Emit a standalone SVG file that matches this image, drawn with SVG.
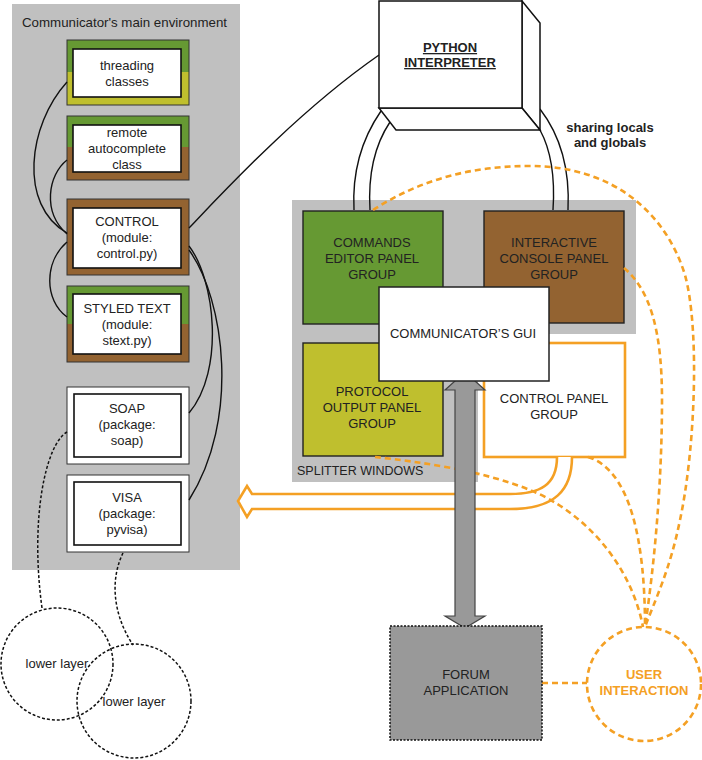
<svg xmlns="http://www.w3.org/2000/svg" width="702" height="760" viewBox="0 0 702 760">
<style>
text{font-family:"Liberation Sans",Arial,sans-serif;font-size:13px;fill:#222;text-anchor:middle}
.title{text-anchor:start}
.bold{font-weight:bold}
.outer{fill:none;stroke:#333;stroke-width:1}
.inner{fill:#fff;stroke:#111;stroke-width:1.6}
.blk{fill:none;stroke:#111;stroke-width:1.4}
.bdash{fill:none;stroke:#111;stroke-width:1.5;stroke-dasharray:3,2}
.odash{fill:none;stroke:#F4A024;stroke-width:2.6;stroke-dasharray:6,4}
.green{fill:#669933}
.yel{fill:#BFBF2E}
.brown{fill:#936331}
.box{stroke:#222;stroke-width:1.4}
</style>

<!-- Left panel -->
<g id="main-environment">
<rect x="12" y="4" width="228" height="566" fill="#C0C0C0"/>
<text class="title" x="22" y="27" style="font-size:13.3px">Communicator's main environment</text>
</g>

<g id="threading">
<rect x="67" y="40" width="122" height="32" class="green"/>
<rect x="67" y="72" width="122" height="33" class="yel"/>
<rect x="67" y="40" width="122" height="65" class="outer"/>
<rect x="73" y="49" width="108" height="48" class="inner"/>
<text x="127" y="70">threading</text>
<text x="127" y="86">classes</text>
</g>

<g id="remote">
<rect x="67" y="116" width="122" height="31" class="green"/>
<rect x="67" y="147" width="122" height="33" class="brown"/>
<rect x="67" y="116" width="122" height="64" class="outer"/>
<rect x="73" y="125" width="108" height="47" class="inner"/>
<text x="127" y="137">remote</text>
<text x="127" y="153">autocomplete</text>
<text x="127" y="169">class</text>
</g>

<g id="control">
<rect x="67" y="199" width="122" height="76" class="brown"/>
<rect x="67" y="199" width="122" height="76" class="outer"/>
<rect x="73" y="208" width="108" height="60" class="inner"/>
<text x="127" y="226">CONTROL</text>
<text x="127" y="242">(module:</text>
<text x="127" y="258">control.py)</text>
</g>

<g id="styled-text">
<rect x="67" y="286" width="122" height="38" class="green"/>
<rect x="67" y="324" width="122" height="38" class="brown"/>
<rect x="67" y="286" width="122" height="76" class="outer"/>
<rect x="73" y="294" width="108" height="60" class="inner"/>
<text x="127" y="313">STYLED TEXT</text>
<text x="127" y="329">(module:</text>
<text x="127" y="345">stext.py)</text>
</g>

<g id="soap">
<rect x="67" y="387" width="122" height="77" fill="#fff" stroke="#333" stroke-width="1"/>
<rect x="74" y="394" width="107" height="63" class="inner"/>
<text x="127" y="413">SOAP</text>
<text x="127" y="429">(package:</text>
<text x="127" y="445">soap)</text>
</g>

<g id="visa">
<rect x="67" y="475" width="122" height="77" fill="#fff" stroke="#333" stroke-width="1"/>
<rect x="74" y="482" width="107" height="63" class="inner"/>
<text x="127" y="502">VISA</text>
<text x="127" y="518">(package:</text>
<text x="127" y="534">pyvisa)</text>
</g>

<g id="lower-layer-1">
<circle cx="57" cy="664" r="56" fill="#fff" class="bdash"/>
</g>
<g id="lower-layer-2">
<circle cx="134" cy="701" r="57" fill="#fff" class="bdash"/>
<text x="134" y="706">lower layer</text>
</g>
<g id="lower-layer-1-label">
<text x="57" y="668">lower layer</text>
</g>

<!-- Splitter windows -->
<g id="splitter-windows">
<path d="M292,200 H636 V334 H478 V482 H292 Z" fill="#C0C0C0"/>
<text class="title" x="297" y="475" style="font-size:12.5px">SPLITTER WINDOWS</text>
</g>

<g id="commands-editor">
<rect x="303" y="211" width="140" height="113" class="green box"/>
<text x="372" y="247">COMMANDS</text>
<text x="372" y="263">EDITOR PANEL</text>
<text x="372" y="279">GROUP</text>
</g>

<g id="interactive-console">
<rect x="484" y="211" width="140" height="112" class="brown box"/>
<text x="554" y="247">INTERACTIVE</text>
<text x="554" y="263">CONSOLE PANEL</text>
<text x="554" y="279">GROUP</text>
</g>

<g id="protocol-output">
<rect x="303" y="343" width="140" height="113" class="yel box"/>
<text x="372" y="396">PROTOCOL</text>
<text x="372" y="412">OUTPUT PANEL</text>
<text x="372" y="428">GROUP</text>
</g>

<g id="control-panel">
<rect x="484" y="343" width="141" height="114" fill="#fff" stroke="#F4A024" stroke-width="2.6"/>
<text x="554" y="403">CONTROL PANEL</text>
<text x="554" y="419">GROUP</text>
</g>

<!-- Connectors -->
<g id="connectors">
<path class="blk" d="M67,82 C28,125 18,205 67,233"/>
<path class="blk" d="M67,160 C48,175 42,212 67,234"/>
<path class="blk" d="M67,242 C44,262 44,300 67,317"/>
<path class="blk" d="M189,246 C215,280 225,370 189,413"/>
<path class="blk" d="M189,250 C225,300 240,420 189,500"/>
<path class="blk" d="M189,228 C230,185 300,110 379,55"/>
<path class="bdash" d="M67,432 C45,445 30,520 42,608"/>
<path class="bdash" d="M123,553 C112,575 110,610 133,645"/>
<path class="blk" d="M381,111 C361,140 352,172 354,210"/>
<path class="blk" d="M390,122 C374,146 368,176 370,210"/>
<path class="blk" d="M540,109 C560,135 570,170 568,210"/>
<path class="blk" d="M540,130 C552,152 555,180 553,210"/>
<path d="M557,457 C557,485 540,494 510,494 H252 L247,486 L238,501 L247,517 L252,509 H510 C555,509 572,490 572,457" fill="#fff" stroke="#F4A024" stroke-width="2.6" stroke-linejoin="miter"/>
<path class="odash" d="M373,210 C420,180 470,166 530,166 C610,166 665,210 685,275 C700,330 695,450 680,520 C670,570 655,600 645,627"/>
<path class="odash" d="M624,268 C650,290 662,330 662,400 C662,480 655,560 645,627"/>
<path class="odash" d="M588,457 C630,470 645,540 645,627"/>
<path class="odash" d="M375,457 C420,462 480,470 530,490 C580,510 630,560 643,627"/>
<path class="odash" d="M542,683 H587"/>
<path d="M465,372 L485,390 H475 V616 H485 L465,628 L445,616 H455 V390 H445 Z" fill="#999" stroke="#444" stroke-width="1.2"/>
</g>

<g id="python-interpreter">
<polygon points="522,1 540,23 540,130 522,108" fill="#fff" stroke="#111" stroke-width="1.5"/>
<polygon points="379,108 522,108 540,130 396,130" fill="#fff" stroke="#111" stroke-width="1.5"/>
<rect x="379" y="1" width="143" height="107" fill="#fff" stroke="#111" stroke-width="1.5"/>
<text class="bold" x="450" y="52" text-decoration="underline">PYTHON</text>
<text class="bold" x="450" y="67" text-decoration="underline">INTERPRETER</text>
</g>

<g id="sharing-label">
<text class="bold" x="610" y="132">sharing locals</text>
<text class="bold" x="610" y="147">and globals</text>
</g>

<g id="communicators-gui">
<rect x="379" y="287" width="170" height="94" fill="#fff" stroke="#222" stroke-width="1.5"/>
<text x="463" y="338">COMMUNICATOR’S GUI</text>
</g>

<g id="forum-application">
<rect x="390" y="626" width="152" height="114" fill="#999" stroke="#111" stroke-width="1.5" stroke-dasharray="2,1.5"/>
<text x="466" y="679">FORUM</text>
<text x="466" y="695">APPLICATION</text>
</g>

<g id="user-interaction">
<circle cx="644" cy="684" r="57" fill="#fff" class="odash"/>
<text class="bold" x="644" y="679" style="fill:#F4A024">USER</text>
<text class="bold" x="644" y="695" style="fill:#F4A024">INTERACTION</text>
</g>
</svg>
